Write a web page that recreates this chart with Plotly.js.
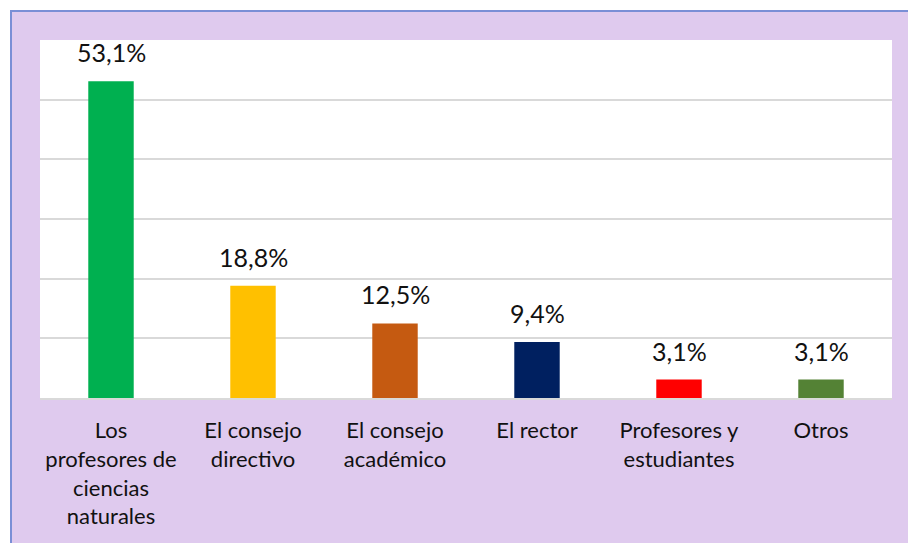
<!DOCTYPE html>
<html>
<head>
<meta charset="utf-8">
<script src="https://cdn.plot.ly/plotly-3.0.1.min.js"></script>
<style>
html,body{margin:0;padding:0;background:#ffffff;width:908px;height:543px;overflow:hidden;}
#wrap{position:absolute;left:10px;top:10px;width:896px;height:531px;border-top:2px solid #7a8fd6;border-left:2px solid #7a8fd6;background:#dfcaee;}
#chart{width:896px;height:531px;}
</style>
</head>
<body>
<div id="wrap"><div id="chart"></div></div>
<script>
const categories = ["Los<br>profesores de<br>ciencias<br>naturales", "El consejo<br>directivo", "El consejo<br>académico", "El rector", "Profesores y<br>estudiantes", "Otros"];
const values = [53.1, 18.8, 12.5, 9.4, 3.1, 3.1];
const labels = ["53,1%", "18,8%", "12,5%", "9,4%", "3,1%", "3,1%"];
const colors = ["#00b050", "#ffc000", "#c55a11", "#002060", "#ff0000", "#548235"];

const FONT = "Lato, 'Open Sans', sans-serif";

const trace = {
  type: "bar",
  x: categories,
  y: values,
  marker: {color: colors},
  hoverinfo: "none"
};

const annotations = categories.map((c, i) => ({
  x: c, y: values[i], xref: "x", yref: "y",
  text: labels[i], showarrow: false,
  yanchor: "bottom", yshift: 12,
  font: {family: FONT, size: 25, color: "#111111"}
}));

const layout = {
  width: 896, height: 531,
  paper_bgcolor: "#dfcaee",
  plot_bgcolor: "#ffffff",
  margin: {l: 28, r: 16, t: 28, b: 145},
  bargap: 0.68,
  showlegend: false,
  font: {family: FONT, size: 22, color: "#111111"},
  xaxis: {
    type: "category",
    showgrid: false,
    showline: true, linecolor: "#d9d9d9", linewidth: 2,
    ticks: "", ticklabelstandoff: 12,
    tickfont: {family: FONT, size: 22, color: "#111111"}
  },
  yaxis: {
    range: [0, 60], dtick: 10,
    showgrid: true, gridcolor: "#d9d9d9", gridwidth: 2,
    showticklabels: false, zeroline: false, ticks: "",
    showline: false
  },
  annotations: annotations
};

Plotly.newPlot("chart", [trace], layout, {staticPlot: true, displayModeBar: false});
</script>
</body>
</html>
